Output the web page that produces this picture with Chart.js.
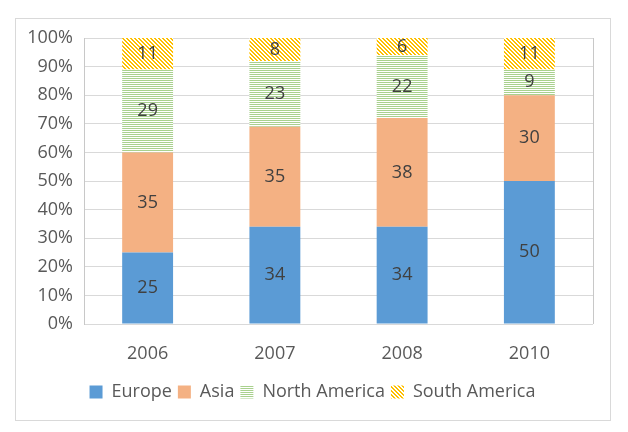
<!DOCTYPE html>
<html>
<head>
<meta charset="utf-8">
<script src="https://cdn.jsdelivr.net/npm/chart.js@4.4.0/dist/chart.umd.min.js"></script>
<style>
html,body{margin:0;padding:0;background:#fff;}
canvas{display:block;}
</style>
</head>
<body>
<canvas id="c" width="628" height="432"></canvas>
<script>
const years = ['2006', '2007', '2008', '2010'];
const europe = [25, 34, 34, 50];
const asia = [35, 35, 38, 30];
const northAmerica = [29, 23, 22, 9];
const southAmerica = [11, 8, 6, 11];
const yTicks = [0, 10, 20, 30, 40, 50, 60, 70, 80, 90, 100];

function stripeH() {
  const c = document.createElement('canvas');
  c.width = 4; c.height = 2;
  const g = c.getContext('2d');
  g.fillStyle = '#ffffff'; g.fillRect(0, 0, 4, 2);
  g.fillStyle = '#a9d18e'; g.fillRect(0, 0, 4, 1);
  return g.createPattern(c, 'repeat');
}
function stripeD() {
  const c = document.createElement('canvas');
  c.width = 4; c.height = 4;
  const g = c.getContext('2d');
  g.fillStyle = '#ffffff'; g.fillRect(0, 0, 4, 4);
  g.fillStyle = '#ffc000';
  for (let y = 0; y < 4; y++) {
    for (let x = 0; x < 4; x++) {
      if (((x - y) % 4 + 4) % 4 < 2) g.fillRect(x, y, 1, 1);
    }
  }
  return g.createPattern(c, 'repeat');
}

const FONT = "'Open Sans', 'Noto Sans', sans-serif";

const framePlugin = {
  id: 'frame',
  afterLayout(chart) {
    const lg = chart.legend;
    if (lg) { lg.left += 16; lg.right += 16; }
  },
  beforeDraw(chart) {
    const ctx = chart.ctx;
    ctx.save();
    ctx.strokeStyle = '#d9d9d9';
    ctx.lineWidth = 1;
    ctx.strokeRect(15.5, 18.5, 595, 402);
    ctx.restore();
  },
  afterDraw(chart) {
    const a = chart.chartArea;
    const ctx = chart.ctx;
    ctx.save();
    ctx.strokeStyle = '#c8c8c8';
    ctx.lineWidth = 1;
    ctx.beginPath();
    ctx.moveTo(Math.round(a.right) + 0.5, a.top);
    ctx.lineTo(Math.round(a.right) + 0.5, a.bottom);
    ctx.stroke();
    ctx.restore();
  }
};

const labelPlugin = {
  id: 'vals',
  afterDatasetsDraw(chart) {
    const ctx = chart.ctx;
    ctx.save();
    ctx.font = "18px " + FONT;
    ctx.fillStyle = '#404040';
    ctx.textAlign = 'center';
    ctx.textBaseline = 'middle';
    chart.data.datasets.forEach((ds, i) => {
      const meta = chart.getDatasetMeta(i);
      meta.data.forEach((el, j) => {
        const y = (el.y + el.base) / 2;
        ctx.fillText(String(ds.data[j]), el.x, y);
      });
    });
    ctx.restore();
  }
};

new Chart(document.getElementById('c'), {
  type: 'bar',
  data: {
    labels: years,
    datasets: [
      { label: 'Europe', data: europe, backgroundColor: '#5b9bd5' },
      { label: 'Asia', data: asia, backgroundColor: '#f4b183' },
      { label: 'North America', data: northAmerica, backgroundColor: stripeH() },
      { label: 'South America', data: southAmerica, backgroundColor: stripeD() }
    ]
  },
  options: {
    responsive: false,
    animation: false,
    devicePixelRatio: 1,
    layout: { padding: { left: 0, right: 35, top: 38, bottom: 21 } },
    datasets: { bar: { barPercentage: 0.4, categoryPercentage: 1, borderWidth: 0 } },
    scales: {
      x: {
        stacked: true,
        grid: { display: false },
        border: { display: false },
        ticks: { color: '#595959', font: { family: FONT, size: 18 }, padding: 11 },
        afterFit(s) { s.height = 53; }
      },
      y: {
        stacked: true,
        min: 0, max: 100,
        afterBuildTicks(s) { s.ticks = yTicks.map(v => ({ value: v })); },
        grid: { color: '#d9d9d9', drawTicks: false },
        border: { display: true, color: '#c8c8c8' },
        ticks: { color: '#595959', font: { family: FONT, size: 18 }, padding: 11, callback: v => v + '%' },
        afterFit(s) { s.width = 84; }
      }
    },
    plugins: {
      legend: {
        position: 'bottom',
        labels: { boxWidth: 13, boxHeight: 13, padding: 6, color: '#595959', font: { family: FONT, size: 18 } }
      },
      tooltip: { enabled: false }
    }
  },
  plugins: [framePlugin, labelPlugin]
});
</script>
</body>
</html>
